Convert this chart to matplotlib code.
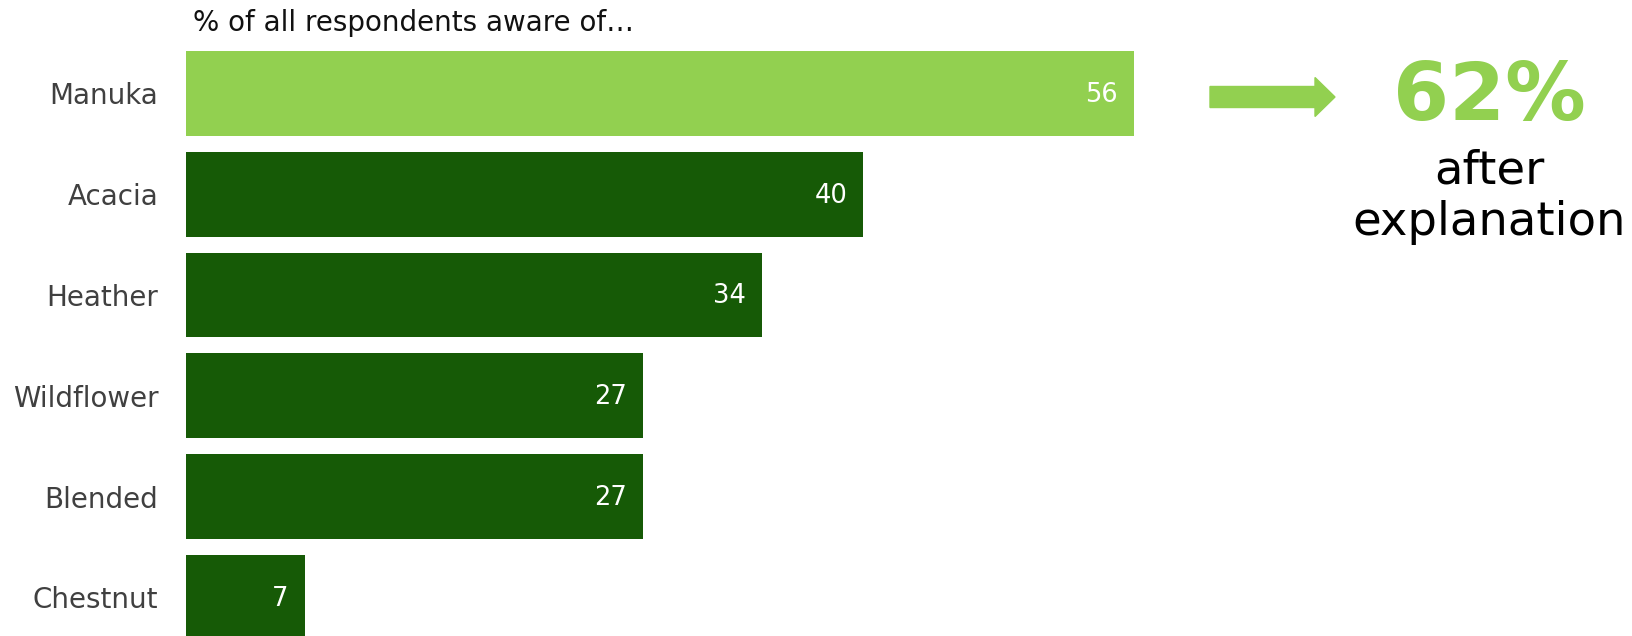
import matplotlib
matplotlib.use("Agg")
import matplotlib.pyplot as plt
import matplotlib.patches as mpatches
from matplotlib.transforms import IdentityTransform

# ---- data ----
categories = ["Manuka", "Acacia", "Heather", "Wildflower", "Blended", "Chestnut"]
values = [56, 40, 34, 27, 27, 7]
highlight = "Manuka"
headline = "62%"
headline_sub = ["after", "explanation"]
title = "% of all respondents aware of\u2026"

LIGHT = "#92D050"
DARK = "#165A06"
LABEL = "#404040"

plt.rcParams["font.family"] = "DejaVu Sans"

W, H = 1632, 636
fig = plt.figure(figsize=(W / 100, H / 100), dpi=100)
left = 186
ax = fig.add_axes([left / W, 0, 1 - left / W, 1])

colors = [LIGHT if c == highlight else DARK for c in categories]
y = range(len(categories))
ax.barh(list(y), values, height=0.84, color=colors)
ax.set_xlim(0, (W - left) / 16.93)
ax.set_ylim(5.383, -0.927)

ax.set_yticks(list(y))
ax.set_yticklabels(categories, fontsize=20, color=LABEL)
ax.tick_params(axis="y", length=0, pad=20)
ax.set_xticks([])
for s in ax.spines.values():
    s.set_visible(False)

for i, v in enumerate(values):
    ax.annotate(str(v), (v, i), xytext=(-11.5, -1), textcoords="offset points",
                ha="right", va="center", color="white", fontsize=18.5)

# title above bars
fig.text(193 / W, 1 - 23 / H, title, fontsize=20, color="#111111",
         ha="left", va="center")

# arrow + callout (pixel coords)
arrow = mpatches.FancyArrow(1210, H - 97, 125, 0, width=21, head_width=39,
                            head_length=20, length_includes_head=True,
                            color=LIGHT, transform=IdentityTransform())
fig.patches.append(arrow)

fig.text(1489 / W, 1 - 120 / H, headline, fontsize=58, fontweight="bold",
         color=LIGHT, ha="center", va="baseline")
fig.text(1489 / W, 1 - 183 / H, headline_sub[0], fontsize=33.5, color="black",
         ha="center", va="baseline")
fig.text(1489 / W, 1 - 235 / H, headline_sub[1], fontsize=33.5, color="black",
         ha="center", va="baseline")

fig.savefig("out.png", dpi=100, facecolor="white")
